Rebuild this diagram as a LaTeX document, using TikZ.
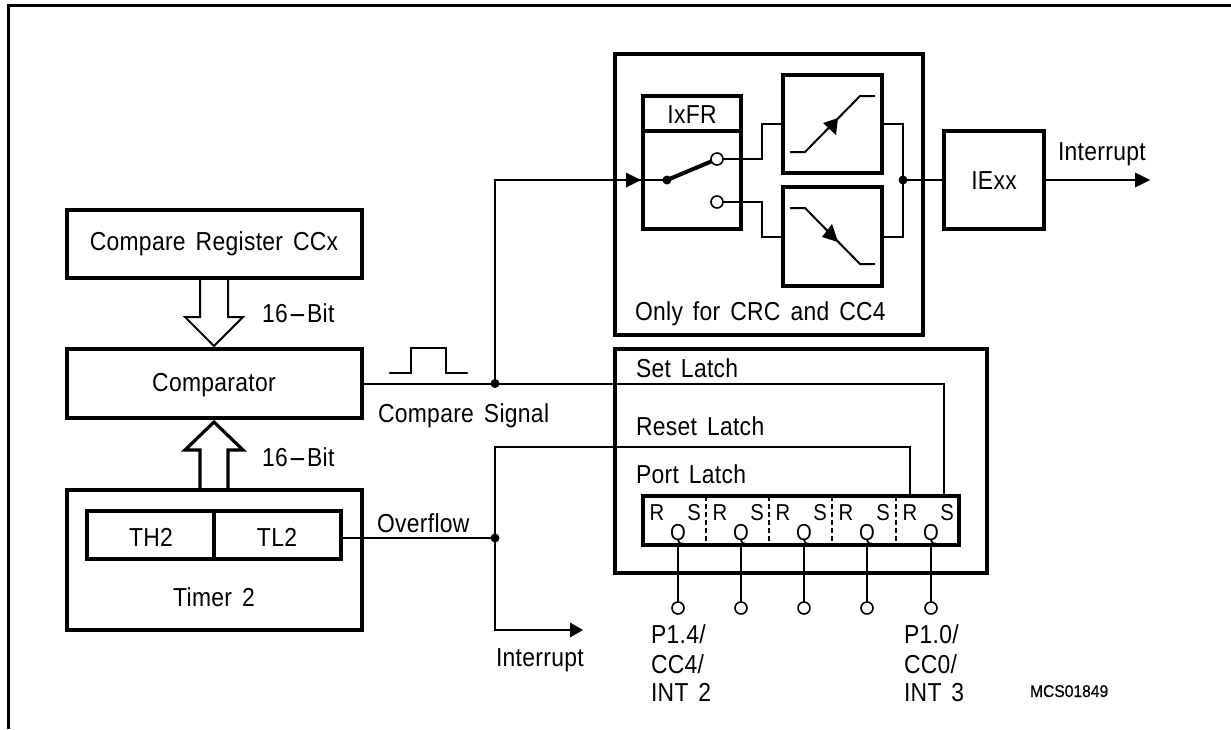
\documentclass[tikz,border=0pt]{standalone}
\usepackage{fontspec}
\setmainfont{Liberation Sans}[WordSpace=1.5,FakeStretch=0.88,LetterSpace=1.2]
\newfontfamily\codefont{Liberation Sans}[FakeStretch=0.92,FakeBold=0.4]
\newcommand{\widedash}{\kern0.5pt\scalebox{2.4}[1]{-}\kern0.5pt}
\begin{document}
\begin{tikzpicture}[x=1pt,y=-1pt,
  box/.style={draw,line width=3.8pt,inner sep=0,outer sep=0,rectangle},
  panel/.style={draw,line width=3.8pt,inner sep=0,outer sep=0,rectangle},
  wire/.style={line width=2pt},
  lbl/.style={font=\fontsize{26}{26}\selectfont,inner sep=0,outer sep=0,anchor=base},
  lbw/.style={font=\fontsize{26}{26}\selectfont,inner sep=0,outer sep=0,anchor=base west},
  small/.style={font=\fontsize{23}{23}\selectfont,inner sep=0,outer sep=0,anchor=base},
  code/.style={font=\codefont\fontsize{17}{17}\selectfont,inner sep=0,outer sep=0,anchor=base west},
  dot/.style={circle,fill=black,inner sep=0,outer sep=0,minimum size=9pt},
  pin/.style={circle,draw,fill=white,line width=1.6pt,inner sep=0,outer sep=0,minimum size=12pt},
  head/.style={fill=black,draw=none}]
\useasboundingbox (0,0) rectangle (1231,729);
% outer frame
\coordinate (fa) at (8.5,729);
\coordinate (fb) at (8.5,5.5);
\coordinate (fc) at (1231,5.5);
\draw[line width=2.2pt,line cap=butt] (fa) -- (fb) -- (fc);
% left column
\node[box,minimum width=295pt,minimum height=68pt] (reg) at (214.5,244) {};
\node[box,minimum width=295pt,minimum height=69pt] (cmp) at (214.5,383.5) {};
\node[box,minimum width=295pt,minimum height=140pt] (tim) at (214.5,560) {};
\node[box,minimum width=127pt,minimum height=48pt] (th) at (150.5,535) {};
\node[box,minimum width=127pt,minimum height=48pt] (tl) at (277.5,535) {};
\node[lbl] (tCmpReg) at (214,250) {Compare Register CCx};
\node[lbl] (tCmp) at (214,391) {Comparator};
\node[lbl] (tTH) at (151,546) {TH2};
\node[lbl] (tTL) at (277,546) {TL2};
\node[lbl] (tTim) at (214,606) {Timer 2};
\node[lbw] (tB1) at (262,322) {16\widedash Bit};
\node[lbw] (tB2) at (262,466) {16\widedash Bit};
% hollow bus arrows
\draw[line width=2pt,line join=miter] (200,278) -- (200,317) -- (185,317) -- (214,346) -- (243,317) -- (228,317) -- (228,278);
\draw[line width=3.2pt,line join=miter] (200,489) -- (200,450) -- (185,450) -- (214,422) -- (243,450) -- (228,450) -- (228,489);
% top panel
\node[panel,minimum width=308pt,minimum height=281pt] (top) at (769,194.5) {};
\node[box,minimum width=98pt,minimum height=35pt] (ixh) at (692,113.5) {};
\node[box,minimum width=98pt,minimum height=98pt] (ixb) at (692,180) {};
\node[box,minimum width=99pt,minimum height=98pt] (up) at (832.5,124) {};
\node[box,minimum width=99pt,minimum height=99pt] (dn) at (832.5,236.5) {};
\node[box,minimum width=100pt,minimum height=98pt] (ie) at (994,180) {};
\node[lbl] (tIx) at (692,123) {IxFR};
\node[lbl] (tIe) at (994,189) {IExx};
\node[lbw] (tOnly) at (635,320) {Only for CRC and CC4};
\node[lbw] (tInt1) at (1058,160) {Interrupt};
% switch
\node[dot] (swd) at (667,180) {};
\node[pin] (swa) at (717,159) {};
\node[pin] (swb) at (717,202) {};
\draw[line width=4pt] (swd.center) -- (swa);
\coordinate (jup) at (882,124);
\coordinate (jdn) at (882,237);
\coordinate (iup) at (783,124);
\coordinate (idn) at (783,237);
\coordinate (kink) at (762,159);
\coordinate (kinkb) at (762,202);
\coordinate (bus) at (903,124);
\coordinate (busb) at (903,237);
\node[dot] (jout) at (903,180) {};
\draw[wire] (swa) -- (kink) -- (762,124) -- (iup);
\draw[wire] (swb) -- (kinkb) -- (762,237) -- (idn);
\draw[wire] (jup) -- (bus) -- (busb) -- (jdn);
\draw[wire] (jout.center) -- (ie.west);
% transfer characteristics
\draw[wire] (790,152) -- (805,152) -- (860,96) -- (875,96);
\fill[head] (823,123) -- (838,118) -- (836,135) -- cycle;
\draw[wire] (790,208) -- (805,208) -- (860,264) -- (875,264);
\fill[head] (822,237) -- (838,242) -- (832,224) -- cycle;
% output interrupt
\coordinate (o1) at (1150,180);
\draw[wire] (ie.east) -- (1136,180);
\fill[head] (o1) -- (1135,172.5) -- (1135,187.5) -- cycle;
% compare signal
\node[dot] (j1) at (495,383.5) {};
\coordinate (sw) at (495,180);
\coordinate (sIn) at (641,180);
\draw[wire] (cmp.east) -- (j1.center);
\draw[wire] (j1.center) -- (sw) -- (swd.center);
\fill[head] (sIn) -- (626,172.5) -- (626,187.5) -- cycle;
\draw[line width=2.6pt,line cap=round,line join=miter] (390,373) -- (411,373) -- (411,348) -- (446,348) -- (446,373) -- (467,373);
\node[lbw] (tCS) at (378,422) {Compare Signal};
% lower panel
\node[panel,minimum width=372pt,minimum height=224pt] (low) at (801,461) {};
\node[draw,line width=3.8pt,inner sep=0,outer sep=0,minimum width=316pt,minimum height=49pt] (lat) at (801,520.5) {};
\coordinate (sL) at (944,496);
\coordinate (rL) at (910,496);
\coordinate (rC) at (910,447);
\coordinate (sC) at (944,383.5);
\draw[wire] (j1.center) -- (sC) -- (sL);
\foreach \x [count=\i] in {706,769,832,896}{
  \coordinate (d\i t) at (\x,496);
  \coordinate (d\i b) at (\x,545);
  \draw[line width=1.6pt,dash pattern=on 5pt off 3pt] (d\i t) -- (d\i b);
}
\node[lbw] (tSet) at (636,377) {Set Latch};
\node[lbw] (tRes) at (636,435) {Reset Latch};
\node[lbw] (tPort) at (636,483) {Port Latch};
% overflow
\node[dot] (j2) at (495,538) {};
\coordinate (rV) at (495,447);
\coordinate (iC) at (495,630);
\coordinate (iT) at (583,630);
\draw[wire] (tl.east |- j2.center) -- (j2.center);
\draw[wire] (rL) -- (rC) -- (rV) -- (iC) -- (570,630);
\fill[head] (iT) -- (570,622.5) -- (570,637.5) -- cycle;
\node[lbw] (tOv) at (377,532) {Overflow};
\node[lbw] (tInt2) at (496,666) {Interrupt};
% latch cells and pins
\foreach \x [count=\i] in {678,741,804,867,931}{
  \node[small] (r\i) at (\x-21,520) {R};
  \node[small] (s\i) at (\x+16,520) {S};
  \node[small] (q\i) at (\x,540) {Q};
  \coordinate (qb\i) at (\x,545);
  \node[pin] (p\i) at (\x,608) {};
  \draw[wire] (qb\i) -- (p\i);
}
% pin labels
\node[lbw] (a1) at (651,643) {P1.4/};
\node[lbw] (a2) at (651,673) {CC4/};
\node[lbw] (a3) at (651,701) {INT 2};
\node[lbw] (b1) at (904,643) {P1.0/};
\node[lbw] (b2) at (904,673) {CC0/};
\node[lbw] (b3) at (904,701) {INT 3};
\node[code] (mcs) at (1030,697) {MCS01849};
\end{tikzpicture}
\end{document}
